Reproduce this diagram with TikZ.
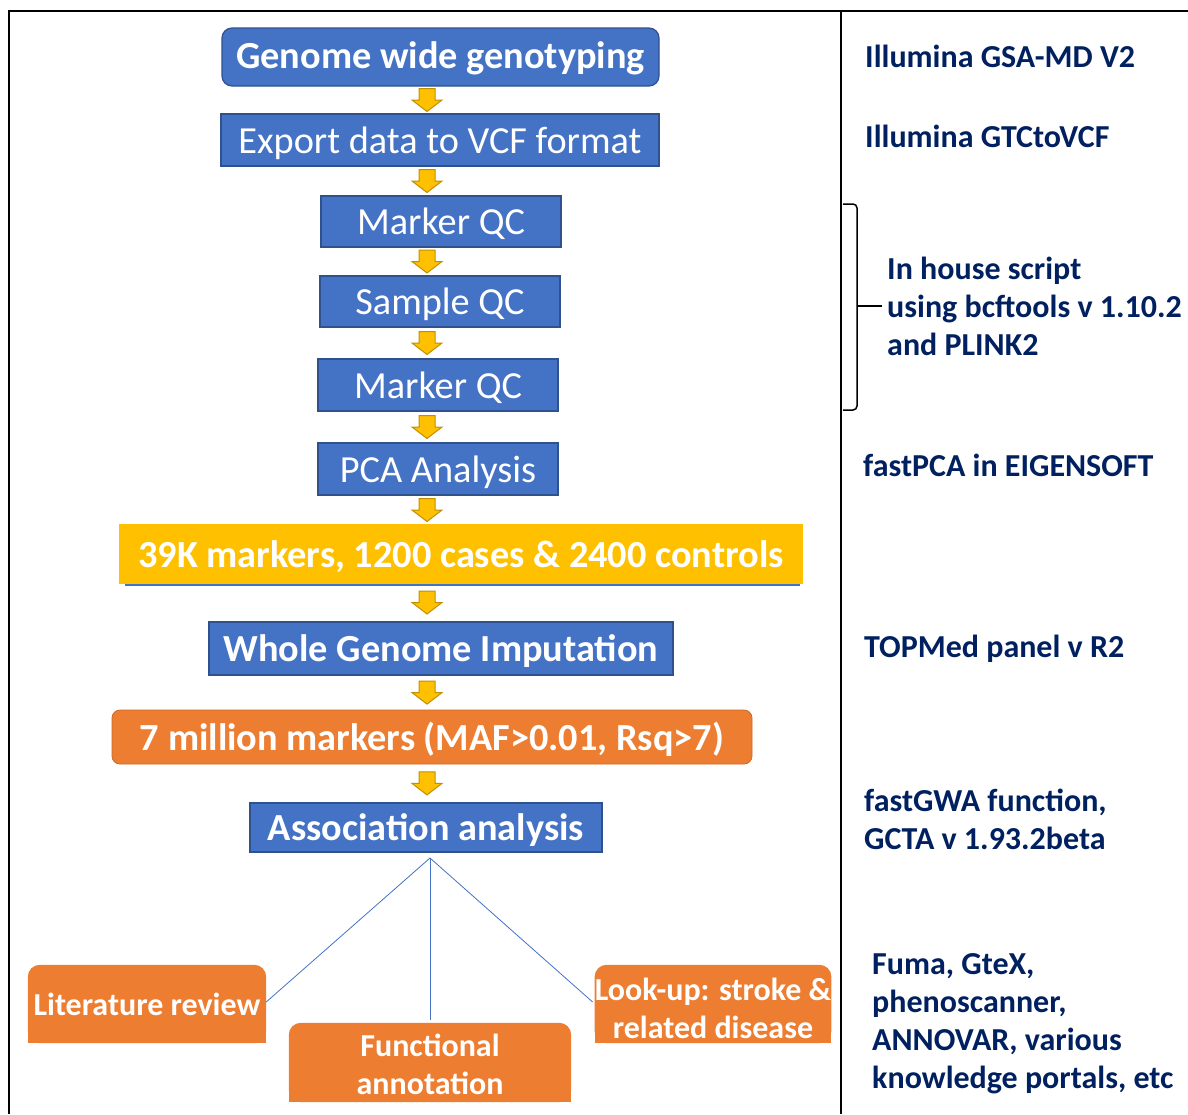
\documentclass[tikz,border=0pt]{standalone}
\usepackage{fontspec}
\setmainfont{Carlito}
\usetikzlibrary{backgrounds,calc}
\definecolor{blueC}{HTML}{4472C4}
\definecolor{blueD}{HTML}{2F528F}
\definecolor{yelC}{HTML}{FFC000}
\definecolor{yelD}{HTML}{BF9000}
\definecolor{orgC}{HTML}{ED7D31}
\definecolor{navy}{HTML}{002060}
\begin{document}
\begin{tikzpicture}[x=1pt,y=-1pt,
  box/.style={fill=blueC, draw=blueD, line width=1.2pt, text=white, inner sep=0pt, align=center, text height=27pt, text depth=1pt},
  regf/.style={font=\fontsize{38.3}{46}\selectfont},
  boldf/.style={font=\fontsize{38.3}{46}\selectfont\bfseries},
  obox/.style={text=white, inner sep=0pt, align=center, font=\fontsize{32}{38}\selectfont\bfseries},
  side/.style={text=navy, font=\fontsize{32}{38}\selectfont\bfseries, anchor=west, align=left, inner sep=0pt},
  yarrow/.pic={\filldraw[fill=yelC, draw=yelD, line width=1pt, line join=miter]
     (-8,-11.5) -- (8,-11.5) -- (8,0) -- (15,0) -- (0,11.5) -- (-15,0) -- (-8,0) -- cycle;},
  link/.style={draw=blueC, line width=0.8pt},
  frame/.style={draw=black, line width=2pt}
]
\useasboundingbox (0,0) rectangle (1188,1114);

% frame
\draw[frame] (9,1114) -- (9,11) -- (1188,11);
\draw[frame] (841,11) -- (841,1114);

% main boxes
\node[box, boldf, text depth=5pt, rounded corners=10pt, minimum width=437, minimum height=58] (g1) at (440.5,57) {Genome wide genotyping};
\node[box, regf, minimum width=438, minimum height=52] (exp) at (440,140) {Export data to VCF format};
\node[box, regf, minimum width=240, minimum height=51] (mqc1) at (441,221.5) {Marker QC};
\node[box, regf, minimum width=240, minimum height=51] (sqc) at (440,301.5) {Sample QC};
\node[box, regf, minimum width=240, minimum height=52] (mqc2) at (438,385) {Marker QC};
\node[box, regf, minimum width=240, minimum height=52] (pca) at (438,469) {PCA Analysis};
\fill[blueC] (125,560) rectangle (800,586);
\node[box, boldf, fill=yelC, draw=yelC, minimum width=682, minimum height=58] (k39) at (461,554) {39K markers, 1200 cases \& 2400 controls};
\node[box, boldf, minimum width=464, minimum height=53] (wgi) at (441,648.5) {Whole Genome Imputation};
\node[box, boldf, fill=orgC, draw=orgC!85!black, line width=0.8pt, rounded corners=8pt, minimum width=640, minimum height=54] (m7) at (432,737) {7 million markers (MAF>0.01, Rsq>7)};
\node[box, boldf, minimum width=352, minimum height=49] (assoc) at (426,827.5) {Association analysis};

% arrows
\coordinate (ax) at (427,0);
\foreach \a/\b in {g1/exp, exp/mqc1, mqc1/sqc, sqc/mqc2, mqc2/pca, pca/k39, k39/wgi, wgi/m7, m7/assoc}{
  \coordinate (mid) at ($(\a.south)!0.5!(\b.north)$);
  \pic at (mid -| ax) {yarrow};
}

% bottom orange boxes (text nodes; box drawn from node anchors with offset)
\node[obox, minimum width=238, minimum height=78] (lit) at (147,1004) {Literature review};
\node[obox, minimum width=282, minimum height=79] (func) at (430,1064.5) {Functional\\annotation};
\node[obox, minimum width=236, minimum height=78] (look) at (713,1008) {Look-up: stroke \&\\related disease};
\begin{pgfonlayer}{background}
\foreach \n/\o in {lit/0pt,func/2pt,look/4pt}{
  \fill[orgC, rounded corners=12pt] ([yshift=\o]\n.south west) rectangle ([yshift=\o]\n.north east);
  \fill[orgC] ([yshift=\o]\n.south west) rectangle ([yshift=\o]\n.east);
}
\end{pgfonlayer}

\coordinate (hub) at (430,858);
\draw[link] (hub) -- ([yshift=2pt]lit.east);
\draw[link] (hub) -- ([yshift=5pt]func.north);
\draw[link] (hub) -- ([xshift=-2pt,yshift=6pt]look.west);

% brace
\draw[line width=1.5pt, rounded corners=4pt] (843,204) -- (857,204) -- (857,410) -- (843,410);
\draw[line width=1.5pt] (857,306) -- (882,306);

% side notes
\node[side] (s1) at (865,56) {Illumina GSA-MD V2};
\node[side] (s2) at (865,136) {Illumina GTCtoVCF};
\node[side] (s3) at (887,306) {In house script\\using bcftools v 1.10.2\\and PLINK2};
\node[side] (s4) at (863,465) {fastPCA in EIGENSOFT};
\node[side] (s5) at (864,649) {TOPMed panel v R2};
\node[side] (s6) at (864,819) {fastGWA function,\\GCTA v 1.93.2beta};
\node[side] (s7) at (872,1024) {Fuma, GteX,\\phenoscanner,\\ANNOVAR, various\\knowledge portals, etc};
\end{tikzpicture}
\end{document}
